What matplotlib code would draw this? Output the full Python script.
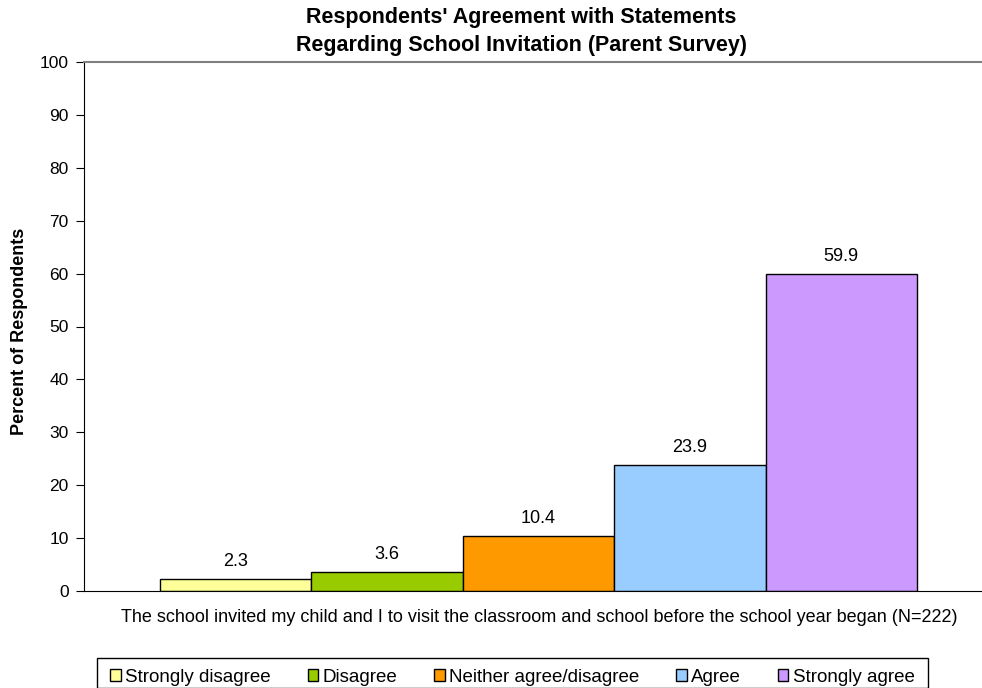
import numpy as np
import matplotlib.pyplot as plt
from matplotlib.patches import Rectangle

plt.rcParams['font.family'] = ['Liberation Sans', 'DejaVu Sans']

categories = ['Strongly disagree', 'Disagree', 'Neither agree/disagree', 'Agree', 'Strongly agree']
values = [2.3, 3.6, 10.4, 23.9, 59.9]
colors = ['#FFFF99', '#99CC00', '#FF9900', '#99CCFF', '#CC99FF']
xlabel = 'The school invited my child and I to visit the classroom and school before the school year began (N=222)'

W, H = 982, 688
fig = plt.figure(figsize=(W / 100, H / 100), dpi=100)
# axes box in pixels: left 84, right 982, top 62, bottom 591
ax = fig.add_axes([84 / W, 1 - 591 / H, (982 - 84) / W, (591 - 62) / H])

x = np.arange(len(values))
bars = ax.bar(x, values, width=1.0, color=colors, edgecolor='black', linewidth=1.0)
for xi, v in zip(x, values):
    ax.text(xi, v + 1.7, f'{v:.1f}', ha='center', va='bottom', fontsize=13)

ax.set_xlim(-1.0, 4.929)
ax.set_ylim(0, 100)
ax.set_yticks(np.arange(0, 101, 10))
ax.tick_params(axis='y', labelsize=12.5, length=6, direction='out', pad=5)
ax.set_xticks([])
ax.spines['right'].set_visible(False)
ax.spines['top'].set_color('#808080')
ax.spines['top'].set_linewidth(1.5)

ax.set_ylabel('Percent of Respondents', fontsize=13, fontweight='bold')
ax.yaxis.set_label_coords(-0.0623, 0.4915)

fig.text(539.5 / W, 1 - 617 / H, xlabel, ha='center', va='center', fontsize=13)

fig.text(521 / W, 1 - 31.5 / H, "Respondents' Agreement with Statements\nRegarding School Invitation (Parent Survey)",
         ha='center', va='center', fontsize=15.5, fontweight='bold', linespacing=1.42)

# legend frame drawn by hand so the padding matches
fig.patches.append(Rectangle((97 / W, 0), (928 - 97) / W, 1 - 658 / H, transform=fig.transFigure,
                             facecolor='white', edgecolor='black', linewidth=1.0, zorder=1))
leg = fig.legend(bars, categories, loc='center', bbox_to_anchor=(512.5 / W, 1 - 677 / H), ncol=5,
                 fontsize=13.5, frameon=False,
                 handlelength=0.55, handleheight=0.55, handletextpad=0.25, columnspacing=1.96,
                 borderpad=0, borderaxespad=0)
leg.set_zorder(2)

fig.savefig('out.png', dpi=100)
